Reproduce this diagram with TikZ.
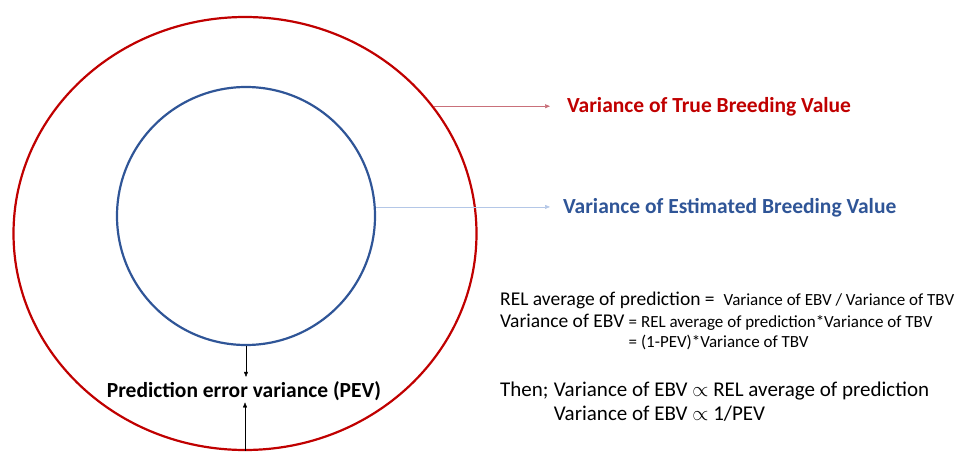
\documentclass[tikz,border=0pt]{standalone}
\usepackage{fontspec}
\setmainfont{Carlito}
\usetikzlibrary{shapes.geometric,arrows.meta}
\definecolor{tbvred}{HTML}{C00000}
\definecolor{ebvblue}{HTML}{2F5597}
\definecolor{tbvline}{HTML}{C9707A}
\definecolor{ebvline}{HTML}{B4C7E7}
\newcommand{\titletxt}{\fontsize{21.5}{24}\selectfont\bfseries}
\newcommand{\largetxt}{\fontsize{19.5}{22}\selectfont}
\newcommand{\smalltxt}{\fontsize{17}{20}\selectfont}
\newcommand{\thentxt}{\fontsize{21}{24}\selectfont}
\begin{document}
\begin{tikzpicture}[x=1pt,y=-1pt,
  tip/.style={-{Triangle[length=5pt,width=4pt]}},
  formula/.style={anchor=base west, inner sep=0pt}]
\useasboundingbox (0,0) rectangle (956,452);
% circles
\node[ellipse, draw=tbvred, line width=2.2pt, minimum width=463pt, minimum height=433pt, inner sep=0pt] (TBV) at (245,233.5) {};
\node[circle, draw=ebvblue, line width=2.2pt, minimum size=258pt, inner sep=0pt] (EBV) at (246,216) {};
% labels
\node[formula, font=\titletxt, text=tbvred] (TBVlab) at (567,113) {Variance of True Breeding Value};
\node[formula, font=\titletxt, text=ebvblue] (EBVlab) at (563,213) {Variance of Estimated Breeding Value};
\node[font=\titletxt, inner sep=0pt, anchor=base] (PEV) at (244,397) {Prediction error variance (PEV)};
\coordinate (TBVend) at (550,0);
\coordinate (EBVend) at (550,0);
% connectors
\draw[tip, tbvline, semithick] (TBV.34.6) -- (TBV.34.6 -| TBVend);
\draw[tip, ebvline, semithick] (EBV.4) -- (EBV.4 -| EBVend);
\draw[tip, thin] (EBV.south) -- ([yshift=4pt]EBV.south |- PEV.north);
\draw[tip, thin] (TBV.south) -- ([yshift=-2pt]TBV.south |- PEV.south);
% formulas
\node[formula] (rel) at (500,305) {\largetxt REL average of prediction = \ {\smalltxt Variance of EBV / Variance of TBV}};
\node[formula, font=\largetxt] (varL) at (500,327) {Variance of EBV};
\node[formula, font=\smalltxt] (varR) at ([xshift=4pt]varL.base east) {= REL average of prediction*Variance of TBV};
\node[formula, font=\smalltxt] (pev) at ([yshift=-20pt]varR.base west) {= (1-PEV)*Variance of TBV};
\node[formula, font=\thentxt] (then) at (500,396) {Then;};
\node[formula, font=\thentxt] (prop) at ([xshift=5pt]then.base east) {Variance of EBV $\propto$ REL average of prediction};
\node[formula, font=\thentxt] (inv) at ([yshift=-24pt]prop.base west) {Variance of EBV $\propto$ 1/PEV};
\end{tikzpicture}
\end{document}
